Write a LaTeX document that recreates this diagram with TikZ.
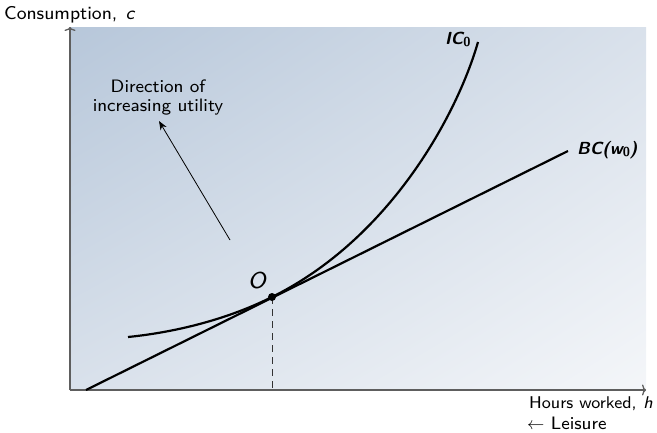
\documentclass[tikz,border=0pt]{standalone}
\usepackage{fontspec}
\newfontfamily\lmsanseight{lmsans8-regular.otf}[ItalicFont=lmsans8-oblique.otf,BoldFont=lmsans10-bold.otf,BoldItalicFont=lmsans10-boldoblique.otf]
\usetikzlibrary{arrows.meta,shadings}
\definecolor{shTL}{HTML}{B7C7DA}
\definecolor{shMid}{HTML}{D9E1EB}
\definecolor{shBR}{HTML}{F4F6F9}
\definecolor{axisgray}{HTML}{5E5E5E}
\newcommand{\subz}[1]{\raisebox{-0.35ex}{\fontsize{13}{13}\selectfont\bfseries\upshape #1}}
\begin{document}
\begin{tikzpicture}[x=1pt,y=-1pt,font=\lmsanseight\fontsize{18}{19}\selectfont,
  axisline/.style={draw=axisgray,line width=1.3pt,-{To[length=4pt,width=11pt]}},
  curveline/.style={draw=black,line width=2.2pt},
  dashline/.style={draw=black!80,line width=1pt,dash pattern=on 7pt off 5pt},
  pointer/.style={draw=black,line width=0.8pt,-{Stealth[length=9pt,width=7pt]}},
  lbl/.style={inner sep=0pt}]
\useasboundingbox (0,0) rectangle (657,432);
\shade[upper left=shTL, upper right=shMid, lower left=shMid, lower right=shBR] (70,27) rectangle (646,390);
\coordinate (orig) at (70,390);
\coordinate (ytop) at (70,27);
\coordinate (xend) at (646,390);
\draw[axisline] (orig) -- (ytop);
\draw[axisline] (orig) -- (xend);
\node[lbl,anchor=base west,font=\lmsanseight\fontsize{18.5}{19}\selectfont] (ylab) at (4,19) {Consumption,\hspace{0.45em}\textit{c}};
\node[lbl,anchor=base west,font=\lmsanseight\fontsize{17}{18}\selectfont] (xlab) at (529,408) {Hours worked,\hspace{0.4em}\textit{h}};
\node[lbl,anchor=base west] (leis) at (527,429) {$\leftarrow$ Leisure};
% budget line
\coordinate (bcA) at (86,390);
\coordinate (bcB) at (568,151);
\draw[curveline] (bcA) -- (bcB);
\node[lbl,anchor=base west,font=\lmsanseight\fontsize{17.5}{18}\selectfont] (bclab) at (577,154) {\bfseries\itshape BC(w\subz{0})};
% indifference curve
\coordinate (O) at (272,297);
\coordinate (icA) at (128,337);
\coordinate (icB) at (478,42);
\draw[curveline] (icA) .. controls (168,333) and (222,322) .. (O)
  .. controls (392,237.5) and (458,112) .. (icB);
\node[lbl,anchor=base west,font=\lmsanseight\fontsize{17.5}{18}\selectfont] (iclab) at (445,44) {\bfseries\itshape IC\subz{0}};
% optimum
\draw[dashline] (O) -- (O |- orig);
\fill (O) circle (4pt);
\node[lbl,font=\lmsanseight\itshape\fontsize{23}{23}\selectfont] (Olab) at (257,281) {O};
% direction of increasing utility
\coordinate (arrS) at (230,240);
\coordinate (arrE) at (159,121);
\draw[pointer] (arrS) -- (arrE);
\node[lbl,align=center] (dirlab) at (158,98) {Direction of\\increasing utility};
\end{tikzpicture}
\end{document}
